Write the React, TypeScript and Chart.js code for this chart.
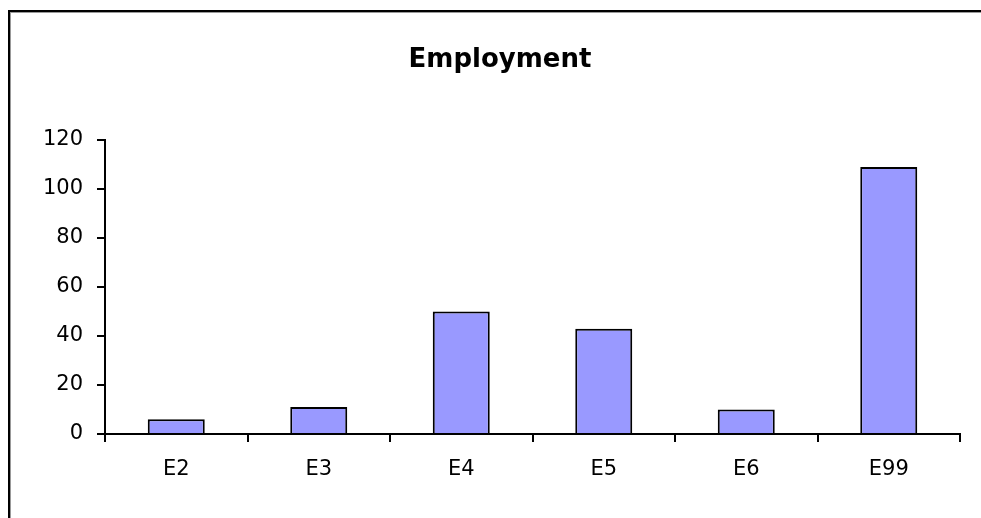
import React, { useEffect, useRef } from "react";
import { Chart, registerables } from "chart.js";

Chart.register(...registerables);

// Chart data
const chartTitle = "Employment";
const categories = ["E2", "E3", "E4", "E5", "E6", "E99"];
const employment = [6, 11, 50, 43, 10, 109];
const yMin = 0;
const yMax = 120;
const yStep = 20;

const FONT = "'DejaVu Sans', 'Liberation Sans', Arial, sans-serif";
const WIDTH = 981;
const HEIGHT = 518;
// outer frame of the chart object (extends past the visible page on the right/bottom)
const FRAME_LEFT = 8;
const FRAME_RIGHT = 992;

// Bold title centred on the chart object's frame.
const titlePlugin = {
  id: "frameTitle",
  afterDraw(chart: any) {
    const ctx = chart.ctx as CanvasRenderingContext2D;
    ctx.save();
    ctx.font = `bold 26px ${FONT}`;
    ctx.fillStyle = "#000";
    ctx.textAlign = "center";
    ctx.textBaseline = "alphabetic";
    ctx.fillText(chartTitle, (FRAME_LEFT + FRAME_RIGHT) / 2, 67);
    ctx.restore();
  },
};

export default function App() {
  const canvasRef = useRef<HTMLCanvasElement | null>(null);

  useEffect(() => {
    const canvas = canvasRef.current;
    if (!canvas) return;
    const chart = new Chart(canvas, {
      type: "bar",
      data: {
        labels: categories,
        datasets: [
          {
            label: chartTitle,
            data: employment,
            backgroundColor: "#9999FF",
            borderColor: "#000000",
            borderWidth: 2,
            barPercentage: 0.4,
            categoryPercentage: 1,
          },
        ],
      },
      options: {
        responsive: false,
        animation: false,
        devicePixelRatio: 1,
        layout: { padding: { top: 140, right: 21, left: 0, bottom: 0 } },
        plugins: {
          legend: { display: false },
          tooltip: { enabled: false },
          title: { display: false },
        },
        scales: {
          x: {
            grid: {
              display: true,
              drawOnChartArea: false,
              drawTicks: true,
              tickLength: 8,
              color: "#000",
              lineWidth: 2,
              offset: true,
            },
            border: { display: true, color: "#000", width: 2 },
            ticks: {
              color: "#000",
              font: { family: FONT, size: 21 },
              padding: 15,
              maxRotation: 0,
            },
            afterFit: (s: any) => {
              s.height = 84;
            },
          },
          y: {
            min: yMin,
            max: yMax,
            grid: {
              display: true,
              drawOnChartArea: false,
              drawTicks: true,
              tickLength: 8,
              color: "#000",
              lineWidth: 2,
            },
            border: { display: true, color: "#000", width: 2 },
            ticks: {
              stepSize: yStep,
              color: "#000",
              font: { family: FONT, size: 21 },
              padding: 14,
            },
            afterFit: (s: any) => {
              s.width = 105;
            },
          },
        },
      },
      plugins: [titlePlugin],
    });
    return () => chart.destroy();
  }, []);

  return (
    <div
      style={{
        position: "fixed",
        left: 0,
        top: 0,
        width: WIDTH,
        height: HEIGHT,
        overflow: "hidden",
        background: "#fff",
      }}
    >
      <div
        style={{
          position: "absolute",
          left: FRAME_LEFT,
          top: 10,
          width: FRAME_RIGHT - FRAME_LEFT,
          height: 600,
          borderTop: "2px solid #000",
          borderLeft: "2px solid #000",
          boxShadow: "inset 1px 1px 0 #999",
          boxSizing: "border-box",
        }}
      />
      <canvas
        ref={canvasRef}
        width={WIDTH}
        height={HEIGHT}
        style={{ position: "absolute", left: 0, top: 0, width: WIDTH, height: HEIGHT }}
      />
    </div>
  );
}
